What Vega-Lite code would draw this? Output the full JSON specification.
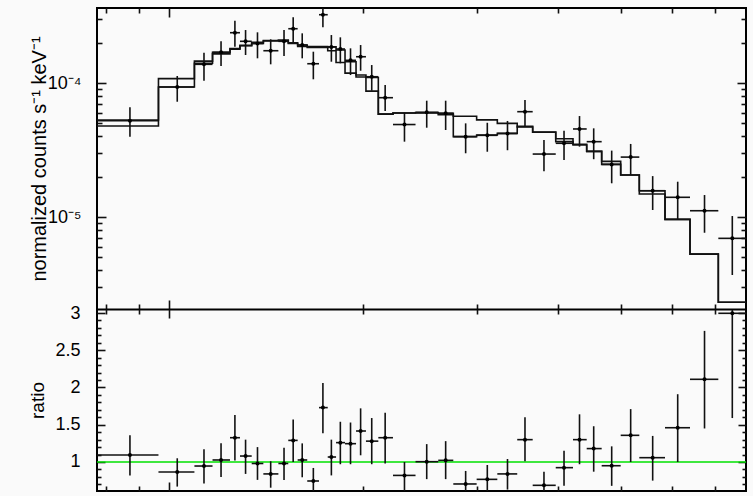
{
  "$schema": "https://vega.github.io/schema/vega-lite/v6.json",
  "width": 649,
  "height": 483,
  "autosize": "none",
  "padding": {"left": 97, "top": 8, "right": 7, "bottom": 5},
  "background": "#fafafa",
  "config": {
    "font": "Liberation Sans",
    "view": {"stroke": "#000", "strokeWidth": 2},
    "axis": {
      "domain": false,
      "grid": false,
      "labelFont": "Liberation Sans",
      "labelFontSize": 18,
      "labelColor": "#000",
      "labelOverlap": false,
      "labelFlush": false,
      "titleFont": "Liberation Sans",
      "titleFontSize": 20,
      "titleFontWeight": "normal",
      "titleColor": "#000",
      "tickColor": "#111",
      "tickWidth": 1.6
    }
  },
  "datasets": {
    "bins": [
      {"e": 0.8702, "lo": 0.7738, "hi": 0.9633, "f": 5.23e-5, "flo": 3.98e-5, "fhi": 6.59e-5, "r": 1.094, "rlo": 0.82, "rhi": 1.36},
      {"e": 1.030, "lo": 0.9633, "hi": 1.095, "f": 9.34e-5, "flo": 7.25e-5, "fhi": 1.128e-4, "r": 0.866, "rlo": 0.67, "rhi": 1.05},
      {"e": 1.133, "lo": 1.095, "hi": 1.168, "f": 1.379e-4, "flo": 1.040e-4, "fhi": 1.684e-4, "r": 0.946, "rlo": 0.71, "rhi": 1.17},
      {"e": 1.204, "lo": 1.168, "hi": 1.243, "f": 1.695e-4, "flo": 1.339e-4, "fhi": 2.048e-4, "r": 1.027, "rlo": 0.80, "rhi": 1.25},
      {"e": 1.265, "lo": 1.243, "hi": 1.288, "f": 2.374e-4, "flo": 1.866e-4, "fhi": 2.917e-4, "r": 1.326, "rlo": 1.02, "rhi": 1.63},
      {"e": 1.314, "lo": 1.288, "hi": 1.343, "f": 2.048e-4, "flo": 1.618e-4, "fhi": 2.486e-4, "r": 1.08, "rlo": 0.84, "rhi": 1.30},
      {"e": 1.371, "lo": 1.343, "hi": 1.400, "f": 1.972e-4, "flo": 1.529e-4, "fhi": 2.390e-4, "r": 0.98, "rlo": 0.76, "rhi": 1.20},
      {"e": 1.437, "lo": 1.400, "hi": 1.477, "f": 1.742e-4, "flo": 1.379e-4, "fhi": 2.119e-4, "r": 0.84, "rlo": 0.655, "rhi": 1.01},
      {"e": 1.507, "lo": 1.477, "hi": 1.530, "f": 2.048e-4, "flo": 1.591e-4, "fhi": 2.486e-4, "r": 0.98, "rlo": 0.76, "rhi": 1.19},
      {"e": 1.557, "lo": 1.530, "hi": 1.582, "f": 2.542e-4, "flo": 1.999e-4, "fhi": 3.093e-4, "r": 1.29, "rlo": 1.0, "rhi": 1.57},
      {"e": 1.608, "lo": 1.582, "hi": 1.637, "f": 1.921e-4, "flo": 1.529e-4, "fhi": 2.349e-4, "r": 1.027, "rlo": 0.795, "rhi": 1.25},
      {"e": 1.673, "lo": 1.637, "hi": 1.707, "f": 1.393e-4, "flo": 1.066e-4, "fhi": 1.713e-4, "r": 0.745, "rlo": 0.57, "rhi": 0.92},
      {"e": 1.731, "lo": 1.707, "hi": 1.761, "f": 3.234e-4, "flo": 2.604e-4, "fhi": 3.610e-4, "r": 1.73, "rlo": 1.385, "rhi": 2.06},
      {"e": 1.784, "lo": 1.761, "hi": 1.814, "f": 1.856e-4, "flo": 1.442e-4, "fhi": 2.281e-4, "r": 1.067, "rlo": 0.82, "rhi": 1.30},
      {"e": 1.842, "lo": 1.814, "hi": 1.873, "f": 1.794e-4, "flo": 1.403e-4, "fhi": 2.193e-4, "r": 1.26, "rlo": 0.97, "rhi": 1.54},
      {"e": 1.910, "lo": 1.873, "hi": 1.948, "f": 1.477e-4, "flo": 1.147e-4, "fhi": 1.815e-4, "r": 1.246, "rlo": 0.97, "rhi": 1.53},
      {"e": 1.980, "lo": 1.948, "hi": 2.018, "f": 1.571e-4, "flo": 1.235e-4, "fhi": 1.921e-4, "r": 1.416, "rlo": 1.09, "rhi": 1.72},
      {"e": 2.060, "lo": 2.018, "hi": 2.109, "f": 1.114e-4, "flo": 8.76e-5, "fhi": 1.362e-4, "r": 1.28, "rlo": 0.97, "rhi": 1.59},
      {"e": 2.161, "lo": 2.109, "hi": 2.222, "f": 7.77e-5, "flo": 6.18e-5, "fhi": 9.66e-5, "r": 1.326, "rlo": 0.98, "rhi": 1.66},
      {"e": 2.315, "lo": 2.222, "hi": 2.408, "f": 4.90e-5, "flo": 3.65e-5, "fhi": 6.00e-5, "r": 0.82, "rlo": 0.61, "rhi": 1.0},
      {"e": 2.506, "lo": 2.408, "hi": 2.611, "f": 6.04e-5, "flo": 4.64e-5, "fhi": 7.38e-5, "r": 1.004, "rlo": 0.77, "rhi": 1.24},
      {"e": 2.681, "lo": 2.611, "hi": 2.755, "f": 5.94e-5, "flo": 4.46e-5, "fhi": 7.38e-5, "r": 1.022, "rlo": 0.77, "rhi": 1.28},
      {"e": 2.879, "lo": 2.755, "hi": 2.994, "f": 3.98e-5, "flo": 2.99e-5, "fhi": 5.00e-5, "r": 0.705, "rlo": 0.53, "rhi": 0.88},
      {"e": 3.110, "lo": 2.994, "hi": 3.223, "f": 4.07e-5, "flo": 3.07e-5, "fhi": 5.05e-5, "r": 0.767, "rlo": 0.58, "rhi": 0.96},
      {"e": 3.342, "lo": 3.223, "hi": 3.460, "f": 4.20e-5, "flo": 3.15e-5, "fhi": 5.21e-5, "r": 0.84, "rlo": 0.63, "rhi": 1.04},
      {"e": 3.557, "lo": 3.460, "hi": 3.656, "f": 6.11e-5, "flo": 4.72e-5, "fhi": 7.47e-5, "r": 1.30, "rlo": 1.01, "rhi": 1.60},
      {"e": 3.806, "lo": 3.656, "hi": 3.969, "f": 2.95e-5, "flo": 2.20e-5, "fhi": 3.75e-5, "r": 0.687, "rlo": 0.51, "rhi": 0.87},
      {"e": 4.088, "lo": 3.969, "hi": 4.221, "f": 3.55e-5, "flo": 2.66e-5, "fhi": 4.41e-5, "r": 0.924, "rlo": 0.68, "rhi": 1.15},
      {"e": 4.320, "lo": 4.221, "hi": 4.432, "f": 4.54e-5, "flo": 3.35e-5, "fhi": 5.67e-5, "r": 1.30, "rlo": 0.97, "rhi": 1.64},
      {"e": 4.544, "lo": 4.432, "hi": 4.675, "f": 3.65e-5, "flo": 2.70e-5, "fhi": 4.59e-5, "r": 1.18, "rlo": 0.87, "rhi": 1.48},
      {"e": 4.845, "lo": 4.675, "hi": 5.003, "f": 2.47e-5, "flo": 1.785e-5, "fhi": 3.13e-5, "r": 0.95, "rlo": 0.68, "rhi": 1.21},
      {"e": 5.184, "lo": 5.003, "hi": 5.346, "f": 2.80e-5, "flo": 2.06e-5, "fhi": 3.51e-5, "r": 1.358, "rlo": 1.0, "rhi": 1.71},
      {"e": 5.607, "lo": 5.346, "hi": 5.859, "f": 1.571e-5, "flo": 1.128e-5, "fhi": 2.02e-5, "r": 1.058, "rlo": 0.75, "rhi": 1.35},
      {"e": 6.130, "lo": 5.859, "hi": 6.405, "f": 1.403e-5, "flo": 9.50e-6, "fhi": 1.834e-5, "r": 1.46, "rlo": 1.0, "rhi": 1.91},
      {"e": 6.745, "lo": 6.405, "hi": 7.085, "f": 1.114e-5, "flo": 7.63e-6, "fhi": 1.459e-5, "r": 2.11, "rlo": 1.45, "rhi": 2.76},
      {"e": 7.447, "lo": 7.085, "hi": 7.8195, "f": 6.93e-6, "flo": 3.69e-6, "fhi": 1.017e-5, "r": 2.996, "rlo": 1.59, "rhi": 3.04}
    ],
    "model": [
      {"edge": 0.7738, "m1": 4.78e-5, "m2": 5.30e-5},
      {"edge": 0.9633, "m1": 1.0785e-4, "m2": 9.34e-5},
      {"edge": 1.095, "m1": 1.458e-4, "m2": 1.403e-4},
      {"edge": 1.168, "m1": 1.650e-4, "m2": 1.695e-4},
      {"edge": 1.243, "m1": 1.790e-4, "m2": 1.81e-4},
      {"edge": 1.288, "m1": 1.896e-4, "m2": 1.911e-4},
      {"edge": 1.343, "m1": 2.012e-4, "m2": 1.972e-4},
      {"edge": 1.400, "m1": 2.074e-4, "m2": 2.06e-4},
      {"edge": 1.477, "m1": 2.090e-4, "m2": 2.069e-4},
      {"edge": 1.530, "m1": 1.971e-4, "m2": 2.0e-4},
      {"edge": 1.582, "m1": 1.871e-4, "m2": 1.921e-4},
      {"edge": 1.637, "m1": 1.870e-4, "m2": 1.846e-4},
      {"edge": 1.707, "m1": 1.869e-4, "m2": 1.84e-4},
      {"edge": 1.761, "m1": 1.739e-4, "m2": 1.866e-4},
      {"edge": 1.814, "m1": 1.424e-4, "m2": 1.763e-4},
      {"edge": 1.873, "m1": 1.185e-4, "m2": 1.442e-4},
      {"edge": 1.948, "m1": 1.109e-4, "m2": 1.147e-4},
      {"edge": 2.018, "m1": 8.70e-5, "m2": 1.10e-4},
      {"edge": 2.109, "m1": 5.86e-5, "m2": 5.86e-5},
      {"edge": 2.222, "m1": 5.98e-5, "m2": 5.98e-5},
      {"edge": 2.408, "m1": 6.02e-5, "m2": 5.98e-5},
      {"edge": 2.611, "m1": 5.81e-5, "m2": 5.94e-5},
      {"edge": 2.755, "m1": 5.65e-5, "m2": 3.98e-5},
      {"edge": 2.994, "m1": 5.31e-5, "m2": 4.09e-5},
      {"edge": 3.223, "m1": 5.0e-5, "m2": 4.21e-5},
      {"edge": 3.460, "m1": 4.70e-5, "m2": 4.75e-5},
      {"edge": 3.656, "m1": 4.29e-5, "m2": 4.3e-5},
      {"edge": 3.969, "m1": 3.84e-5, "m2": 3.65e-5},
      {"edge": 4.221, "m1": 3.49e-5, "m2": 3.45e-5},
      {"edge": 4.432, "m1": 3.09e-5, "m2": 3.09e-5},
      {"edge": 4.675, "m1": 2.60e-5, "m2": 2.47e-5},
      {"edge": 5.003, "m1": 2.06e-5, "m2": 2.06e-5},
      {"edge": 5.346, "m1": 1.485e-5, "m2": 1.57e-5},
      {"edge": 5.859, "m1": 9.6e-6, "m2": 9.6e-6},
      {"edge": 6.405, "m1": 5.28e-6, "m2": 5.28e-6},
      {"edge": 7.085, "m1": 2.31e-6, "m2": 2.31e-6},
      {"edge": 7.8195, "m1": 2.31e-6, "m2": 2.31e-6}
    ],
    "unity": [{"level": 1}]
  },
  "layer": [
    {
      "layer": [
        {
          "data": {"name": "model"},
          "mark": {"type": "line", "interpolate": "step-after", "color": "#111", "strokeWidth": 1.6},
          "encoding": {
            "x": {"field": "edge", "type": "quantitative", "scale": {"type": "log", "domain": [0.7738, 7.8195], "nice": false},
              "axis": {"orient": "top", "title": null, "labels": false, "values": [0.8, 0.9, 1, 2, 3, 4, 5, 6, 7],
                "tickSize": {"condition": {"test": "datum.value == 1", "value": -9}, "value": -5}}},
            "y": {"field": "m1", "type": "quantitative", "scale": {"type": "log", "domain": [2.058e-6, 3.63e-4], "range": [301, 0], "nice": false},
              "axis": {"orient": "left", "title": "normalized counts s⁻¹ keV⁻¹", "titleX": -52, "titleBaseline": "alphabetic", "labelPadding": 25,
                "values": [3e-6, 4e-6, 5e-6, 6e-6, 7e-6, 8e-6, 9e-6, 1e-5, 2e-5, 3e-5, 4e-5, 5e-5, 6e-5, 7e-5, 8e-5, 9e-5, 1e-4, 2e-4, 3e-4],
                "labelExpr": "datum.value == 0.0001 ? '10⁻⁴' : (datum.value == 0.00001 ? '10⁻⁵' : '')",
                "tickSize": {"condition": {"test": "datum.value == 0.0001 || datum.value == 0.00001", "value": -9}, "value": -5}}}
          }
        },
        {
          "data": {"name": "model"},
          "mark": {"type": "line", "interpolate": "step-after", "color": "#111", "strokeWidth": 1.6},
          "encoding": {
            "x": {"field": "edge", "type": "quantitative", "scale": {"type": "log", "domain": [0.7738, 7.8195], "nice": false},
              "axis": {"orient": "bottom", "offset": -182, "title": null, "labels": false, "domain": true, "domainColor": "#000", "domainWidth": 2,
                "values": [0.8, 0.9, 1, 2, 3, 4, 5, 6, 7],
                "tickSize": {"condition": {"test": "datum.value == 1", "value": -9}, "value": -5}}},
            "y": {"field": "m2", "type": "quantitative", "scale": {"type": "log", "domain": [2.058e-6, 3.63e-4], "range": [301, 0], "nice": false},
              "axis": {"orient": "right", "title": null, "labels": false,
                "values": [3e-6, 4e-6, 5e-6, 6e-6, 7e-6, 8e-6, 9e-6, 1e-5, 2e-5, 3e-5, 4e-5, 5e-5, 6e-5, 7e-5, 8e-5, 9e-5, 1e-4, 2e-4, 3e-4],
                "tickSize": {"condition": {"test": "datum.value == 0.0001 || datum.value == 0.00001", "value": -9}, "value": -5}}}
          }
        },
        {
          "data": {"name": "bins"},
          "mark": {"type": "rule", "color": "#111", "strokeWidth": 1.6},
          "encoding": {
            "x": {"field": "lo", "type": "quantitative", "scale": {"type": "log", "domain": [0.7738, 7.8195], "nice": false}, "axis": null},
            "x2": {"field": "hi"},
            "y": {"field": "f", "type": "quantitative", "scale": {"type": "log", "domain": [2.058e-6, 3.63e-4], "range": [301, 0], "nice": false}, "axis": null}
          }
        },
        {
          "data": {"name": "bins"},
          "mark": {"type": "rule", "color": "#111", "strokeWidth": 1.6},
          "encoding": {
            "x": {"field": "e", "type": "quantitative", "scale": {"type": "log", "domain": [0.7738, 7.8195], "nice": false}, "axis": null},
            "y": {"field": "flo", "type": "quantitative", "scale": {"type": "log", "domain": [2.058e-6, 3.63e-4], "range": [301, 0], "nice": false}, "axis": null},
            "y2": {"field": "fhi"}
          }
        },
        {
          "data": {"name": "bins"},
          "mark": {"type": "point", "filled": true, "color": "#000", "opacity": 1, "size": 16},
          "encoding": {
            "x": {"field": "e", "type": "quantitative", "scale": {"type": "log", "domain": [0.7738, 7.8195], "nice": false}, "axis": null},
            "y": {"field": "f", "type": "quantitative", "scale": {"type": "log", "domain": [2.058e-6, 3.63e-4], "range": [301, 0], "nice": false}, "axis": null}
          }
        }
      ],
      "resolve": {"axis": {"x": "independent", "y": "independent"}}
    },
    {
      "layer": [
        {
          "data": {"name": "unity"},
          "mark": {"type": "rule", "color": "#00e000", "strokeWidth": 1.6},
          "encoding": {
            "y": {"field": "level", "type": "quantitative", "scale": {"domain": [0.6107, 3.0537], "range": [483, 301], "nice": false, "zero": false}, "axis": null}
          }
        },
        {
          "data": {"name": "bins"},
          "mark": {"type": "rule", "color": "#111", "strokeWidth": 1.6, "clip": true},
          "encoding": {
            "x": {"field": "lo", "type": "quantitative", "scale": {"type": "log", "domain": [0.7738, 7.8195], "nice": false},
              "axis": {"orient": "top", "offset": -301, "title": null, "labels": false, "values": [0.8, 0.9, 1, 2, 3, 4, 5, 6, 7],
                "tickSize": {"condition": {"test": "datum.value == 1", "value": -9}, "value": -5}}},
            "x2": {"field": "hi"},
            "y": {"field": "r", "type": "quantitative", "scale": {"domain": [0.6107, 3.0537], "range": [483, 301], "nice": false, "zero": false},
              "axis": {"orient": "left", "title": "ratio", "titleFontSize": 19, "titleX": -54, "titleBaseline": "alphabetic", "labelPadding": 25,
                "values": [0.7, 0.8, 0.9, 1, 1.1, 1.2, 1.3, 1.4, 1.5, 1.6, 1.7, 1.8, 1.9, 2, 2.1, 2.2, 2.3, 2.4, 2.5, 2.6, 2.7, 2.8, 2.9, 3],
                "format": ".2~f",
                "labelExpr": "abs(datum.value * 2 - round(datum.value * 2)) < 0.001 ? datum.label : ''",
                "tickSize": {"condition": {"test": "abs(datum.value * 2 - round(datum.value * 2)) < 0.001", "value": -8}, "value": -4}}}
          }
        },
        {
          "data": {"name": "bins"},
          "mark": {"type": "rule", "color": "#111", "strokeWidth": 1.6, "clip": true},
          "encoding": {
            "x": {"field": "e", "type": "quantitative", "scale": {"type": "log", "domain": [0.7738, 7.8195], "nice": false},
              "axis": {"orient": "bottom", "title": null, "labels": false, "values": [0.8, 0.9, 1, 2, 3, 4, 5, 6, 7],
                "tickSize": {"condition": {"test": "datum.value == 1", "value": -9}, "value": -5}}},
            "y": {"field": "rlo", "type": "quantitative", "scale": {"domain": [0.6107, 3.0537], "range": [483, 301], "nice": false, "zero": false},
              "axis": {"orient": "right", "title": null, "labels": false,
                "values": [0.7, 0.8, 0.9, 1, 1.1, 1.2, 1.3, 1.4, 1.5, 1.6, 1.7, 1.8, 1.9, 2, 2.1, 2.2, 2.3, 2.4, 2.5, 2.6, 2.7, 2.8, 2.9, 3],
                "tickSize": {"condition": {"test": "abs(datum.value * 2 - round(datum.value * 2)) < 0.001", "value": -8}, "value": -4}}},
            "y2": {"field": "rhi"}
          }
        },
        {
          "data": {"name": "bins"},
          "mark": {"type": "point", "filled": true, "color": "#000", "opacity": 1, "size": 16, "clip": true},
          "encoding": {
            "x": {"field": "e", "type": "quantitative", "scale": {"type": "log", "domain": [0.7738, 7.8195], "nice": false}, "axis": null},
            "y": {"field": "r", "type": "quantitative", "scale": {"domain": [0.6107, 3.0537], "range": [483, 301], "nice": false, "zero": false}, "axis": null}
          }
        }
      ],
      "resolve": {"axis": {"x": "independent", "y": "independent"}}
    }
  ],
  "resolve": {"scale": {"y": "independent"}, "axis": {"x": "independent", "y": "independent"}}
}
